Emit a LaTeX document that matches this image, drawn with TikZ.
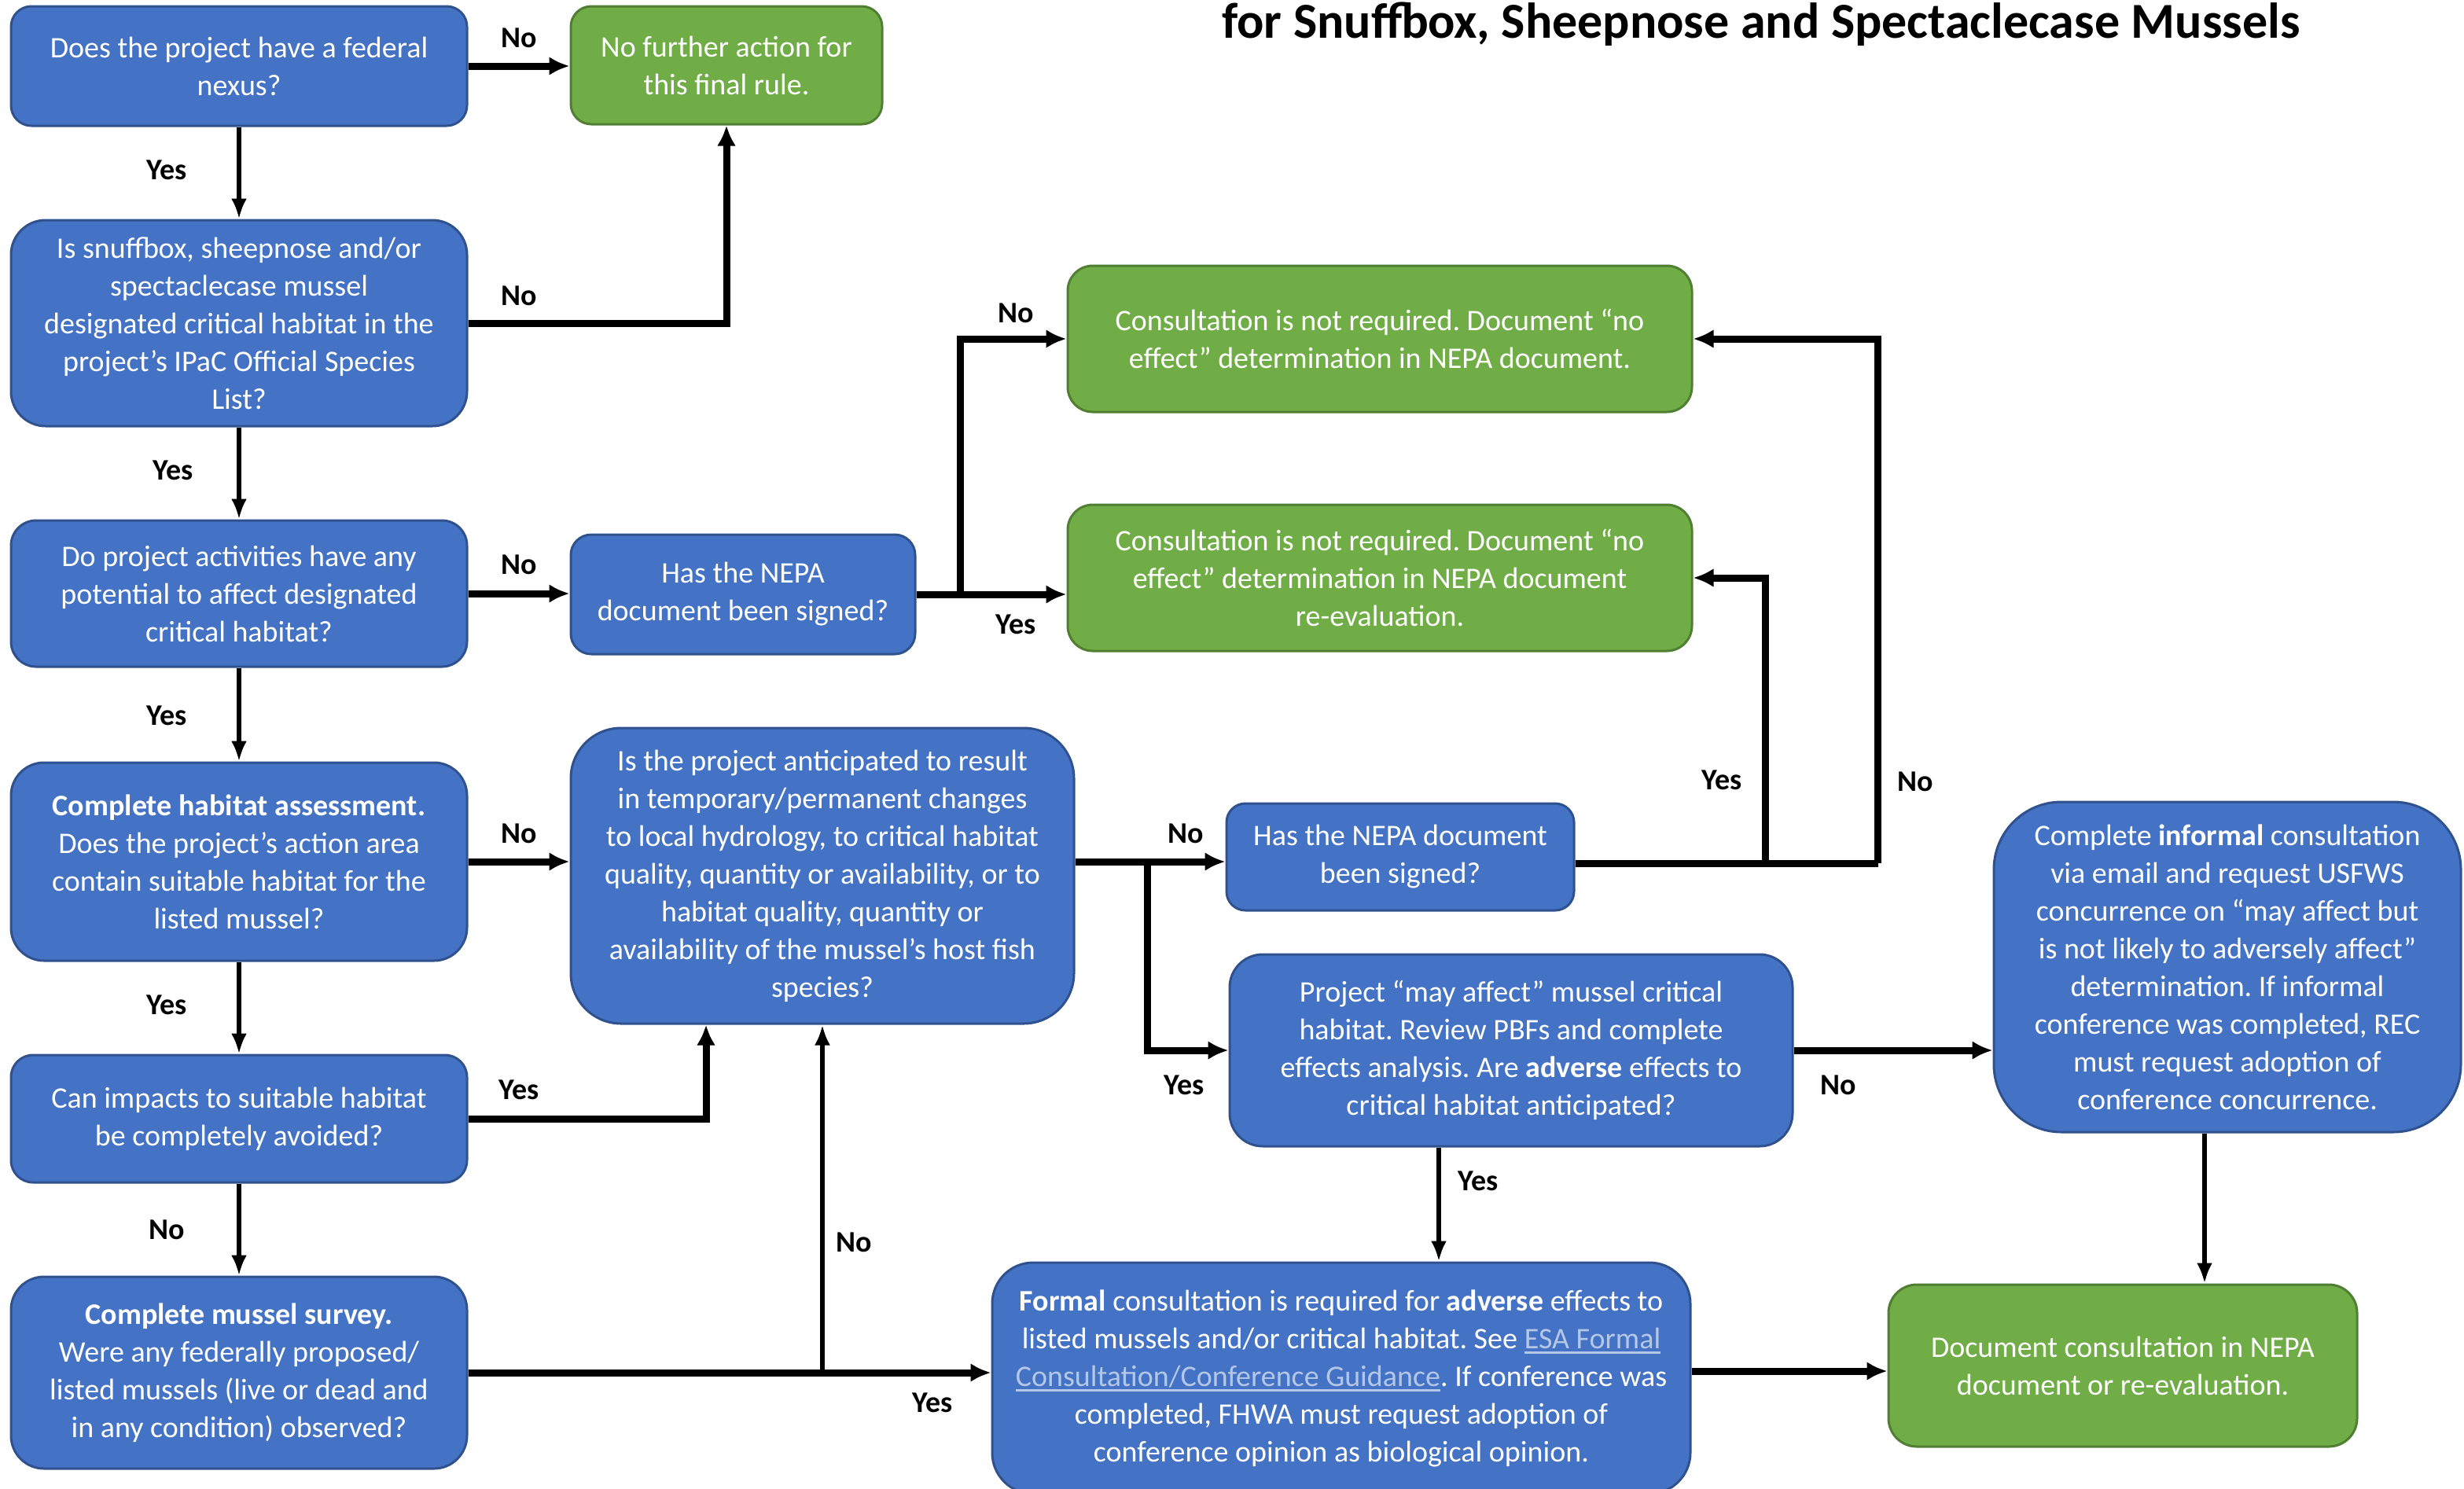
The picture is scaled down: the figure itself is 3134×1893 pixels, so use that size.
\documentclass[tikz,border=0pt]{standalone}
\usepackage{fontspec}
\setmainfont{Carlito}
\usetikzlibrary{arrows.meta,calc}
\definecolor{bfill}{HTML}{4472C4}
\definecolor{bdraw}{HTML}{2F528F}
\definecolor{gfill}{HTML}{70AD47}
\definecolor{gdraw}{HTML}{507E32}
\definecolor{linkc}{HTML}{B4C7E7}
\newcommand\lnk[1]{\setbox0\hbox{#1}\rlap{\color{linkc}\rule[-7pt]{\wd0}{3pt}}\textcolor{linkc}{#1}}
\frenchspacing
\tikzset{
  fcbox/.style={rounded corners=#1, line width=3pt, text=white, align=center, inner sep=0pt, font=\fontsize{38}{48}\selectfont},
  bluebox/.style={fcbox=#1, fill=bfill, draw=bdraw},
  greenbox/.style={fcbox=#1, fill=gfill, draw=gdraw},
  thickarrow/.style={line width=9pt, -{Latex[length=26pt,width=24pt]}},
  thinarrow/.style={line width=6pt, -{Latex[length=26pt,width=20pt]}},
  thickline/.style={line width=9pt},
  lbl/.style={font=\fontsize{38}{48}\selectfont\bfseries, text=black, inner sep=0pt},
}
\begin{document}
\frenchspacing
\begin{tikzpicture}[x=1pt,y=-1pt]
\useasboundingbox (0,0) rectangle (3134,1893);

\node[anchor=base west, inner sep=0pt, font=\fontsize{64}{70}\selectfont\bfseries] (title) at (1554,48) {for Snuffbox, Sheepnose and Spectaclecase Mussels};

% boxes
\node[bluebox=26pt, minimum width=580pt, minimum height=152pt] (A) at (304,84) {Does the project have a federal\\nexus?};
\node[greenbox=26pt, minimum width=396pt, minimum height=150pt] (B) at (924,83) {No further action for\\this final rule.};
\node[bluebox=44pt, minimum width=580pt, minimum height=262pt] (C) at (304,411) {Is snuffbox, sheepnose and/or\\spectaclecase mussel\\designated critical habitat in the\\project’s IPaC Official Species\\List?};
\node[bluebox=32pt, minimum width=580pt, minimum height=186pt] (D) at (304,755) {Do project activities have any\\potential to affect designated\\critical habitat?};
\node[bluebox=26pt, minimum width=438pt, minimum height=152pt] (E) at (945,756) {Has the NEPA\\document been signed?};
\node[greenbox=32pt, minimum width=794pt, minimum height=186pt] (F) at (1755,431) {Consultation is not required. Document “no\\effect” determination in NEPA document.};
\node[greenbox=32pt, minimum width=794pt, minimum height=186pt] (G) at (1755,735) {Consultation is not required. Document “no\\effect” determination in NEPA document\\re-evaluation.};
\node[bluebox=42pt, minimum width=580pt, minimum height=252pt] (H) at (304,1096) {\textbf{Complete habitat assessment.}\\Does the project’s action area\\contain suitable habitat for the\\listed mussel?};
\node[bluebox=64pt, minimum width=640pt, minimum height=376pt] (I) at (1046,1114) {Is the project anticipated to result\\in temporary/permanent changes\\to local hydrology, to critical habitat\\quality, quantity or availability, or to\\habitat quality, quantity or\\availability of the mussel’s host fish\\species?};
\node[bluebox=24pt, minimum width=442pt, minimum height=136pt] (J) at (1781,1090) {Has the NEPA document\\been signed?};
\node[bluebox=42pt, minimum width=716pt, minimum height=244pt] (K) at (1922,1336) {Project “may affect” mussel critical\\habitat. Review PBFs and complete\\effects analysis. Are \textbf{adverse} effects to\\critical habitat anticipated?};
\node[bluebox=86pt, minimum width=594pt, minimum height=420pt] (L) at (2833,1230) {Complete \textbf{informal} consultation\\via email and request USFWS\\concurrence on “may affect but\\is not likely to adversely affect”\\determination. If informal\\conference was completed, REC\\must request adoption of\\conference concurrence.};
\node[bluebox=28pt, minimum width=580pt, minimum height=162pt] (M) at (304,1423) {Can impacts to suitable habitat\\be completely avoided?};
\node[bluebox=42pt, minimum width=580pt, minimum height=244pt] (N) at (304,1746) {\textbf{Complete mussel survey.}\\Were any federally proposed/\\listed mussels (live or dead and\\in any condition) observed?};
\node[bluebox=52pt, minimum width=888pt, minimum height=294pt] (O) at (1706,1753) {\textbf{Formal} consultation is required for \textbf{adverse} effects to\\listed mussels and/or critical habitat. See \lnk{ESA Formal}\\\lnk{Consultation/Conference Guidance}. If conference was\\completed, FHWA must request adoption of\\conference opinion as biological opinion.};
\node[greenbox=36pt, minimum width=596pt, minimum height=206pt] (P) at (2700,1737) {Document consultation in NEPA\\document or re-evaluation.};

% junction coordinates
\coordinate (jE) at ($(E.east)+(56,0)$);
\coordinate (iOut) at ($(I.east)+(0,-18)$);
\coordinate (jI) at ($(iOut)+(92,0)$);
\coordinate (jOut) at ($(J.east)+(0,8)$);
\coordinate (jYes) at ($(jOut)+(242,0)$);
\coordinate (jNo) at ($(jOut)+(385,0)$);
\coordinate (jN) at (N.east -| I.south);
\coordinate (mI) at ($(I.south)+(-148,0)$);
\coordinate (kO) at ($(K.south)+(-92,0)$);
\coordinate (lP) at ($(L.south)+(-29,0)$);
\coordinate (oOut) at ($(O.east)+(0,-9)$);

% connectors
\draw[thickarrow] (A.east) -- (A.east -| B.west);
\draw[thinarrow] (A.south) -- (C.north);
\draw[thickarrow] (C.east) -| (B.south);
\draw[thinarrow] (C.south) -- (D.north);
\draw[thickarrow] (D.east) -- (D.east -| E.west);
\draw[thickarrow] (E.east) -- (E.east -| G.west);
\draw[thickarrow] (jE) |- (F.west);
\draw[thinarrow] (D.south) -- (H.north);
\draw[thickarrow] (H.east) -- (H.east -| I.west);
\draw[thinarrow] (H.south) -- (M.north);
\draw[thickarrow] (M.east) -| (mI);
\draw[thinarrow] (M.south) -- (N.north);
\draw[thickarrow] (N.east) -- (N.east -| O.west);
\draw[thinarrow] (jN) -- (I.south);
\draw[thickarrow] (iOut) -- (iOut -| J.west);
\draw[thickarrow] (jI) |- (K.west);
\draw[thickline] (jOut) -- (jNo);
\draw[thickarrow] (jYes) |- (G.east);
\draw[thickarrow] (jNo) |- (F.east);
\draw[thickarrow] (K.east) -- (K.east -| L.west);
\draw[thinarrow] (kO) -- (kO |- O.north);
\draw[thinarrow] (lP) -- (lP |- P.north);
\draw[thickarrow] (oOut) -- (oOut -| P.west);

% labels
\node[lbl] (l1) at (660,48) {No};
\node[lbl] (l2) at (212,216) {Yes};
\node[lbl] (l3) at (660,376) {No};
\node[lbl] (l4) at (220,598) {Yes};
\node[lbl] (l5) at (660,718) {No};
\node[lbl] (l6) at (1292,794) {Yes};
\node[lbl] (l7) at (1292,398) {No};
\node[lbl] (l8) at (212,910) {Yes};
\node[lbl] (l9) at (660,1060) {No};
\node[lbl] (l10) at (212,1278) {Yes};
\node[lbl] (l11) at (660,1386) {Yes};
\node[lbl] (l12) at (212,1564) {No};
\node[lbl] (l13) at (1186,1784) {Yes};
\node[lbl] (l14) at (1086,1580) {No};
\node[lbl] (l15) at (1508,1060) {No};
\node[lbl] (l16) at (1506,1380) {Yes};
\node[lbl] (l17) at (2190,992) {Yes};
\node[lbl] (l18) at (2436,994) {No};
\node[lbl] (l19) at (2338,1380) {No};
\node[lbl] (l20) at (1880,1502) {Yes};
\end{tikzpicture}
\end{document}
